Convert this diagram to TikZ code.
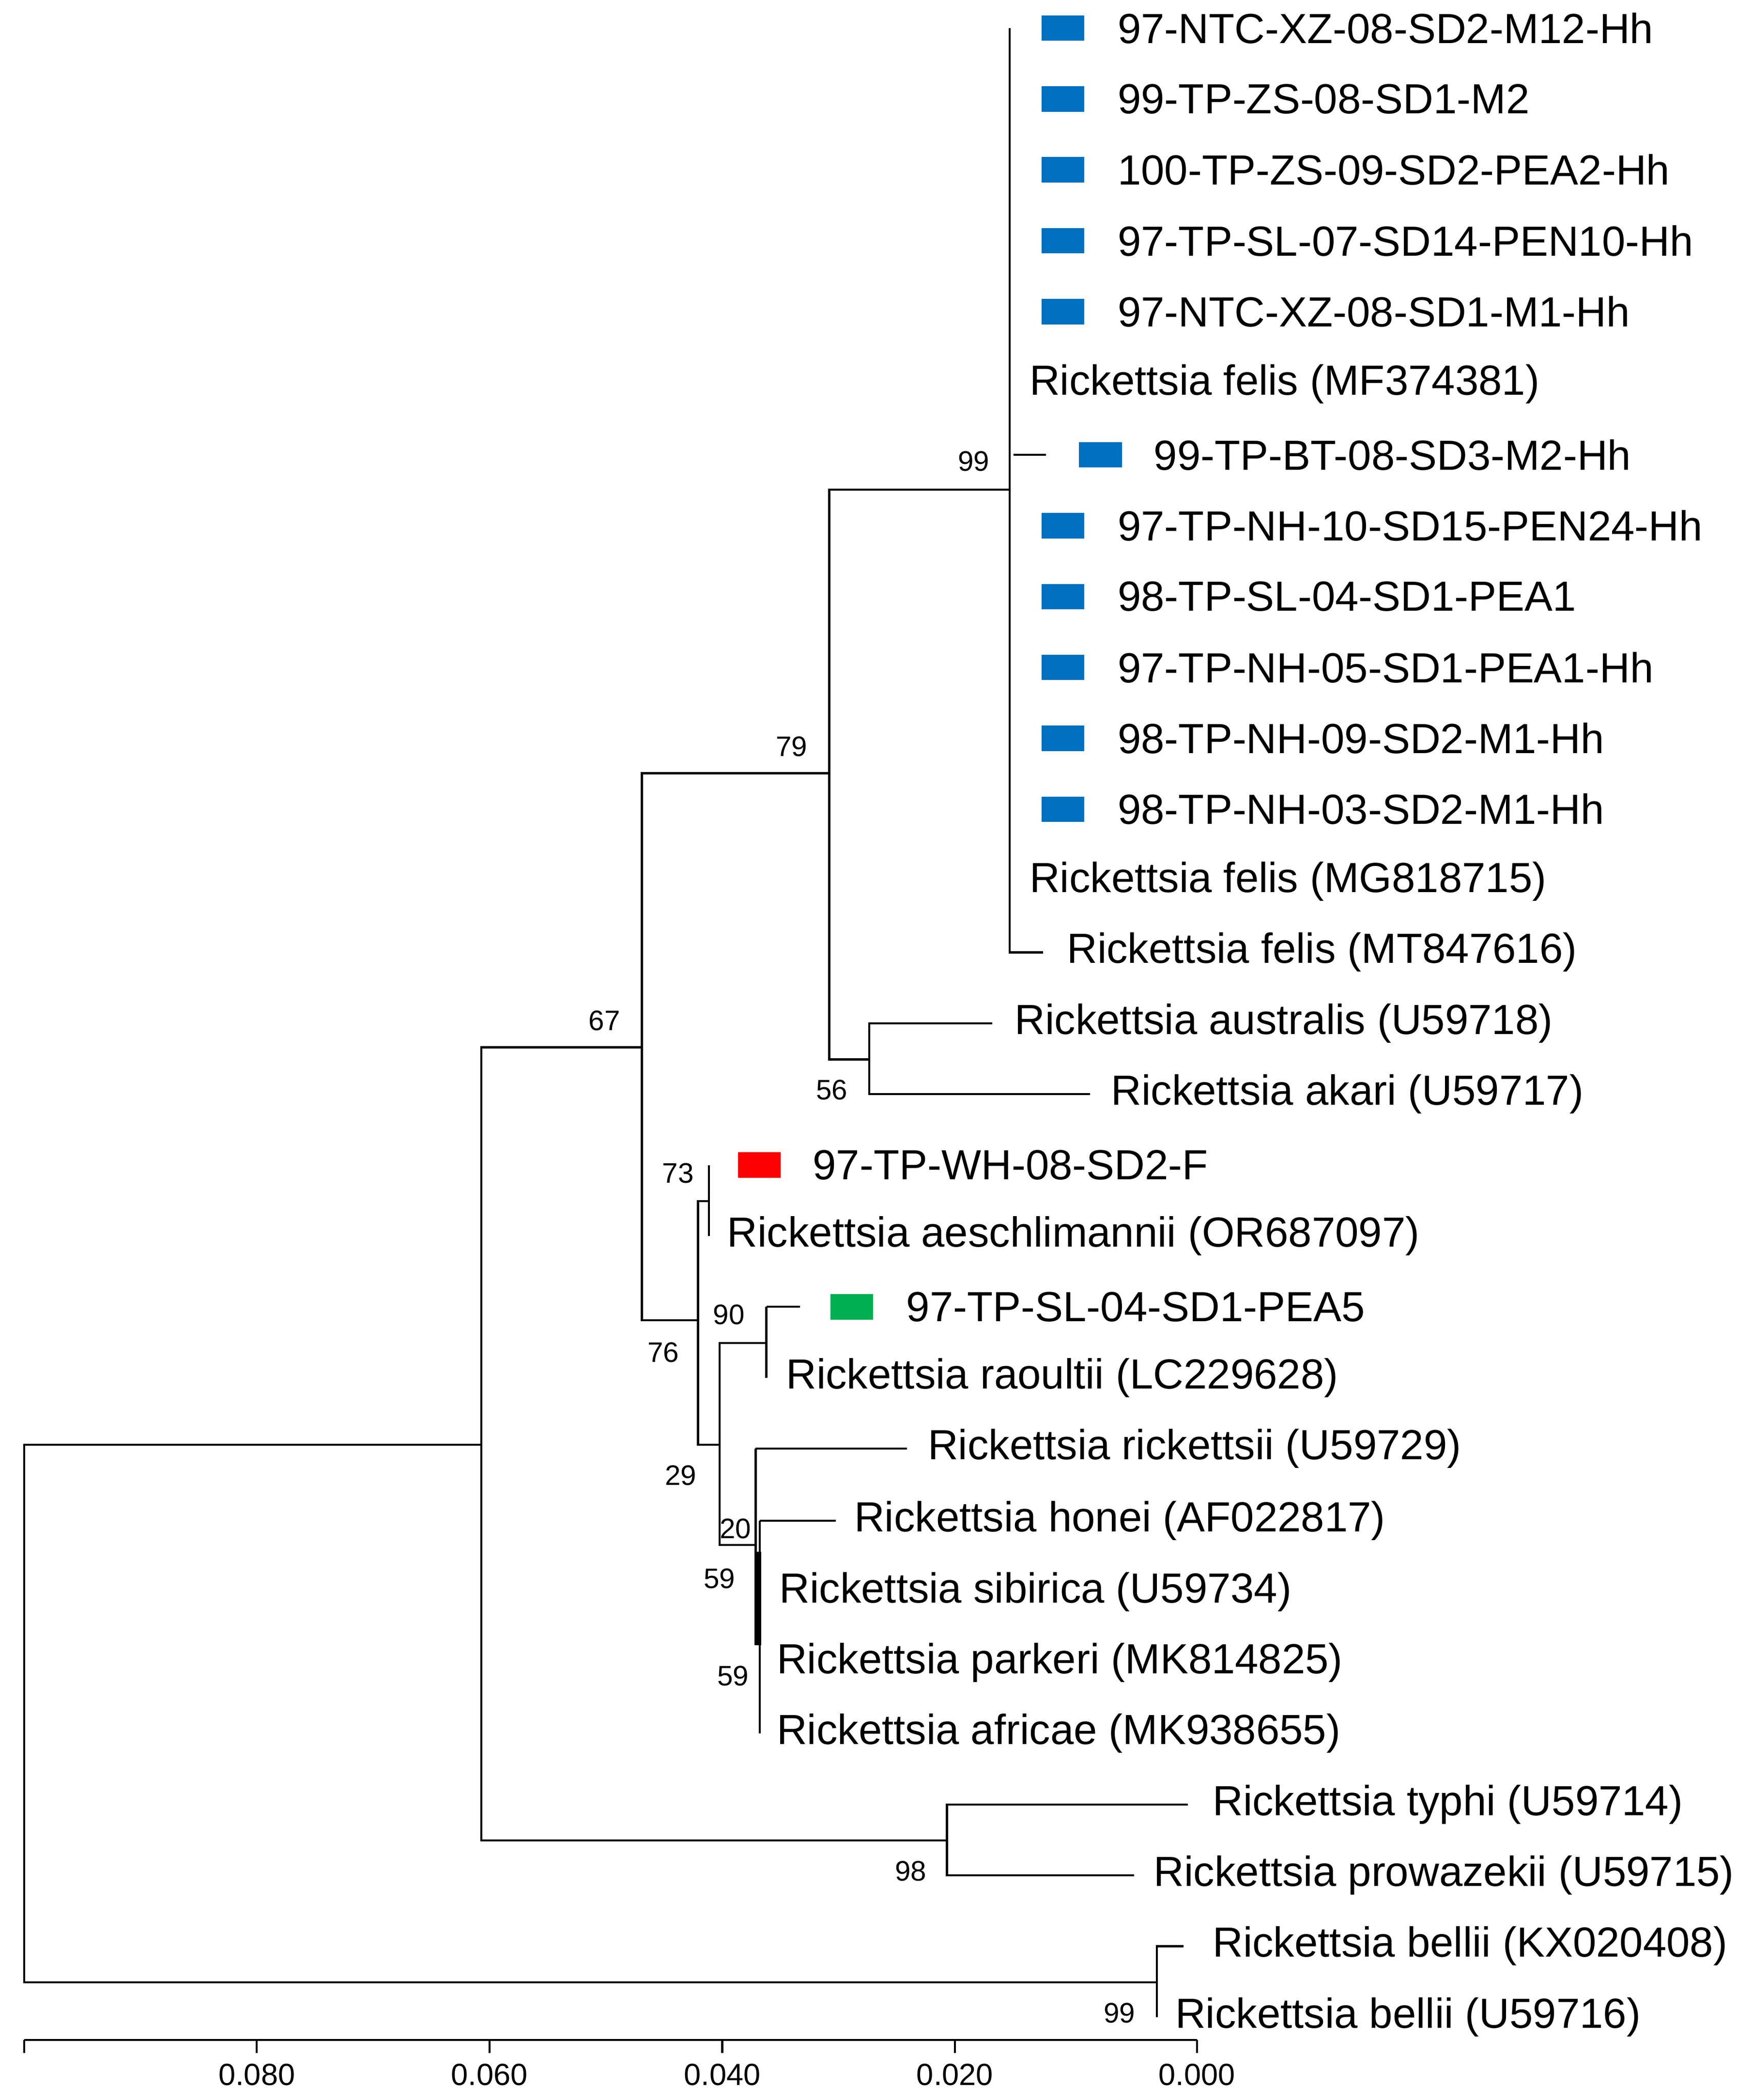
\documentclass[tikz,border=0pt]{standalone}
\usepackage{fontspec}
\setmainfont{Liberation Sans}
\begin{document}
\begin{tikzpicture}[x=0.01cm,y=-0.01cm,line width=0.45pt,
  lab/.style={anchor=west,inner sep=0pt,font=\fontsize{8.95}{10}\selectfont},
  bs/.style={inner sep=0pt,font=\fontsize{6}{7}\selectfont},
  ax/.style={inner sep=0pt,font=\fontsize{6.5}{8}\selectfont},
  mk/.style={minimum width=0.32cm,minimum height=0.19cm,inner sep=0pt,draw=none,anchor=west},
  blue/.style={mk,fill={rgb,255:red,0;green,112;blue,192}}]
\useasboundingbox (0,0) rectangle (1310,1570);
% tip labels
\node[lab] (t0) at (835,21) {97-NTC-XZ-08-SD2-M12-Hh};
\node[lab] (t1) at (835,74) {99-TP-ZS-08-SD1-M2};
\node[lab] (t2) at (835,127) {100-TP-ZS-09-SD2-PEA2-Hh};
\node[lab] (t3) at (835,180) {97-TP-SL-07-SD14-PEN10-Hh};
\node[lab] (t4) at (835,233) {97-NTC-XZ-08-SD1-M1-Hh};
\node[lab] (t5) at (769,287) {Rickettsia felis (MF374381)};
\node[lab] (t6) at (862,340) {99-TP-BT-08-SD3-M2-Hh};
\node[lab] (t7) at (835,393) {97-TP-NH-10-SD15-PEN24-Hh};
\node[lab] (t8) at (835,446) {98-TP-SL-04-SD1-PEA1};
\node[lab] (t9) at (835,499) {97-TP-NH-05-SD1-PEA1-Hh};
\node[lab] (t10) at (835,552) {98-TP-NH-09-SD2-M1-Hh};
\node[lab] (t11) at (835,605) {98-TP-NH-03-SD2-M1-Hh};
\node[lab] (t12) at (769,659) {Rickettsia felis (MG818715)};
\node[lab] (t13) at (797,712) {Rickettsia felis (MT847616)};
\node[lab] (t14) at (758,765) {Rickettsia australis (U59718)};
\node[lab] (t15) at (830,818) {Rickettsia akari (U59717)};
\node[lab] (t16) at (607,871) {97-TP-WH-08-SD2-F};
\node[lab] (t17) at (543,924) {Rickettsia aeschlimannii (OR687097)};
\node[lab] (t18) at (677,977) {97-TP-SL-04-SD1-PEA5};
\node[lab] (t19) at (587,1030) {Rickettsia raoultii (LC229628)};
\node[lab] (t20) at (693,1083) {Rickettsia rickettsii (U59729)};
\node[lab] (t21) at (638,1137) {Rickettsia honei (AF022817)};
\node[lab] (t22) at (582,1190) {Rickettsia sibirica (U59734)};
\node[lab] (t23) at (580,1243) {Rickettsia parkeri (MK814825)};
\node[lab] (t24) at (580,1296) {Rickettsia africae (MK938655)};
\node[lab] (t25) at (906,1349) {Rickettsia typhi (U59714)};
\node[lab] (t26) at (862,1402) {Rickettsia prowazekii (U59715)};
\node[lab] (t27) at (906,1455) {Rickettsia bellii (KX020408)};
\node[lab] (t28) at (878,1508) {Rickettsia bellii (U59716)};
% markers
\foreach \y/\n in {21/0,74/1,127/2,180/3,233/4,393/7,446/8,499/9,552/10,605/11}
  \node[blue] (m\n) at (778,\y) {};
\node[blue] (m6) at (806,340) {};
\node[mk,fill={rgb,255:red,255;green,0;blue,0}] (m16) at (551,871) {};
\node[mk,fill={rgb,255:red,0;green,176;blue,80}] (m18) at (620,977) {};
% internal nodes (x, mid-y)
\coordinate (R) at (18,1281);
\coordinate (A) at (360,1080);
\coordinate (Bel) at (865,1482);
\coordinate (B) at (480,783);
\coordinate (Ty) at (708,1376);
\coordinate (C) at (620,578);
\coordinate (E) at (522,987);
\coordinate (D) at (755,366);
\coordinate (Au) at (650,792);
\coordinate (N73) at (530,898);
\coordinate (N29) at (538,1080);
\coordinate (F) at (573,1004);
\coordinate (G) at (565,1155);
% branches
\draw (A) -| (R);  \draw (Bel) -| (R);
\draw (B) -| (A);  \draw (Ty) -| (A);
\draw (C) -| (B);  \draw (E) -| (B);
\draw (D) -| (C);  \draw (Au) -| (C);
\draw (755,21) -- (755,712) -- (780,712);
\draw (758,340) -- (782,340);
\draw (Au) |- (742,765);
\draw (Au) |- (815,818);
\draw (N73) -| (E);  \draw (N29) -| (E);
\draw (530,871) -- (530,924);
\draw (F) -| (N29);  \draw (G) -| (N29);
\draw (573,977) -- (598,977);
\draw (573,977) -- (573,1030);
\draw (565,1083) -- (678,1083);
\draw (565,1083) -- (565,1230);
\draw (568,1137) -- (625,1137);
\draw (568,1137) -- (568,1296);
\draw[line width=1.3pt] (567,1160) -- (567,1230);
\draw (Ty) |- (888,1349);
\draw (Ty) |- (848,1402);
\draw (Bel) |- (885,1455);
\draw (865,1455) -- (865,1508);
% bootstrap
\node[bs] at (728,345) {99};
\node[bs] at (592,558) {79};
\node[bs] at (452,763) {67};
\node[bs] at (622,815) {56};
\node[bs] at (507,877) {73};
\node[bs] at (545,983) {90};
\node[bs] at (496,1011) {76};
\node[bs] at (509,1103) {29};
\node[bs] at (550,1143) {20};
\node[bs] at (538,1180) {59};
\node[bs] at (548,1253) {59};
\node[bs] at (681,1399) {98};
\node[bs] at (837,1505) {99};
% axis
\draw (18,1525) -- (895,1525);
\foreach \x/\l in {18/,192/0.080,366/0.060,540/0.040,714/0.020,895/0.000}{
  \draw (\x,1525) -- (\x,1535);
  \node[ax] at (\x,1551) {\l};}
\end{tikzpicture}
\end{document}
